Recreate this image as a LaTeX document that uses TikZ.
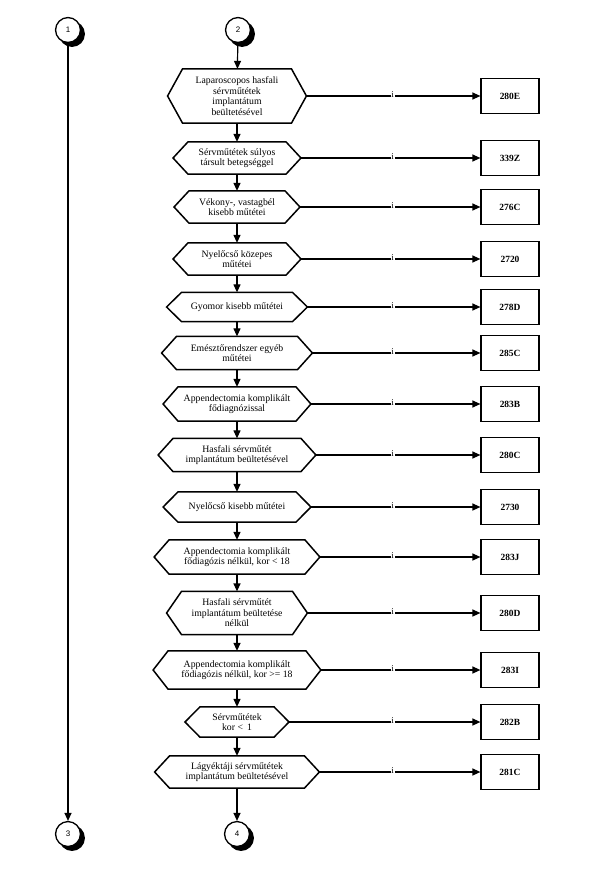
\documentclass[tikz,border=0pt]{standalone}
\usepackage{fontspec}
\setmainfont{Liberation Serif}
\newfontfamily\connfont{Liberation Sans}
\usetikzlibrary{arrows.meta, shapes}

\begin{document}
\begin{tikzpicture}[x=1bp, y=-1bp]
\useasboundingbox (0,0) rectangle (606,889);
\coordinate (bx) at (510,0);
\coordinate (p1) at (68,30);
\coordinate (p2) at (238,30);
\coordinate (p3) at (68,834);
\coordinate (p4) at (237,834);

% shadows of the connector circles
\foreach \i in {1,...,4}
  \fill[black] ([shift={(4,4)}]p\i) circle (13pt);

\begin{scope}[every node/.style={circle, draw, line width=1.3pt, fill=white, minimum size=25pt, inner sep=0pt,
              font=\connfont\fontsize{8}{9}\selectfont}]
  \node (c1) at (p1) {1};
  \node (c2) at (p2) {2};
  \node (c3) at (p3) {3};
  \node (c4) at (p4) {4};
\end{scope}

\begin{scope}[every node/.style={rectangle, inner sep=0pt, align=center,
              font=\fontsize{9.8}{10.6}\selectfont}]
  \node[minimum width=109pt, minimum height=54pt] (h1) at (237,96) {Laparoscopos hasfali\\sérvműtétek\\implantátum\\beültetésével};
  \node[minimum width=98pt, minimum height=32pt] (h2) at (237,158) {Sérvműtétek súlyos\\társult betegséggel};
  \node[minimum width=96pt, minimum height=32pt] (h3) at (237,207) {Vékony-, vastagbél\\kisebb műtétei};
  \node[minimum width=98pt, minimum height=32pt] (h4) at (237,259) {Nyelőcső közepes\\műtétei};
  \node[minimum width=111pt, minimum height=29pt] (h5) at (237,307) {Gyomor kisebb műtétei};
  \node[minimum width=121pt, minimum height=33pt] (h6) at (237,353) {Emésztőrendszer egyéb\\műtétei};
  \node[minimum width=118pt, minimum height=34pt] (h7) at (237,404) {Appendectomia komplikált\\fődiagnózissal};
  \node[minimum width=128pt, minimum height=33pt] (h8) at (237,455) {Hasfali sérvműtét\\implantátum beültetésével};
  \node[minimum width=118pt, minimum height=30pt] (h9) at (237,507) {Nyelőcső kisebb műtétei};
  \node[minimum width=136pt, minimum height=34pt] (h10) at (237,557) {Appendectomia komplikált\\fődiagózis nélkül, kor < 18};
  \node[minimum width=111pt, minimum height=43pt] (h11) at (237,613) {Hasfali sérvműtét\\implantátum beültetése\\nélkül};
  \node[minimum width=138pt, minimum height=38pt] (h12) at (237,670) {Appendectomia komplikált\\fődiagózis nélkül, kor >= 18};
  \node[minimum width=74pt, minimum height=30pt] (h13) at (237,722) {Sérvműtétek\\kor < \,1};
  \node[minimum width=135pt, minimum height=32pt] (h14) at (237,772) {Lágyéktáji sérvműtétek\\implantátum beültetésével};
\end{scope}

% hexagon outlines round the text nodes
\foreach \i in {1,...,14}
  \draw[line width=1.5pt, line join=miter] (h\i.north west) -- (h\i.north east) -- ([xshift=15pt]h\i.east)
    -- (h\i.south east) -- (h\i.south west) -- ([xshift=-15pt]h\i.west) -- cycle;

\begin{scope}[every node/.style={rectangle, draw, line width=1.4pt, minimum width=58pt, minimum height=35pt,
              inner sep=0pt, font=\fontsize{9.5}{10}\selectfont\bfseries}]
  \foreach \i/\code in {1/280E, 2/339Z, 3/276C, 4/2720, 5/278D, 6/285C, 7/283B,
                        8/280C, 9/2730, 10/283J, 11/280D, 12/283I, 13/282B, 14/281C}
    \node (b\i) at (h\i -| bx) {\code};
\end{scope}

\begin{scope}[>={Triangle[length=8pt, width=7pt]},
              every edge/.style={draw=black, line width=1.2pt}]
    \path[->] (c1) edge (c3);
    \path[->] (c2) edge (h1);
    \foreach \i [evaluate=\i as \j using int(\i+1)] in {1,...,13}
      \path[->] (h\i) edge (h\j);
    \path[->] (h14) edge (c4);
    \foreach \i in {1,...,14}
      \path[->] ([xshift=15pt]h\i.east) edge (b\i);
\end{scope}

\foreach \i in {1,...,14}
  \node[inner sep=0.8pt, fill=white, font=\fontsize{9}{9}\selectfont] at ([xshift=-88pt, yshift=1pt]b\i.west) {i};
\end{tikzpicture}
\end{document}
